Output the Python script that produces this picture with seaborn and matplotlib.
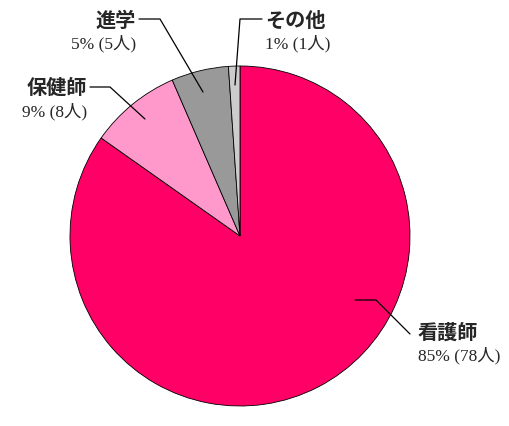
import matplotlib
matplotlib.use("Agg")
import matplotlib.pyplot as plt
import seaborn as sns

sns.set_style("white")
plt.rcParams['font.family'] = ['Liberation Serif', 'Noto Sans CJK JP']

# Data (clockwise from 12 o'clock)
categories = ['看護師', '保健師', '進学', 'その他']
counts = [78, 8, 5, 1]
percents = [85, 9, 5, 1]
colors = ['#FF0066', '#FF99CC', '#999999', '#CCCCCC']

# pixel geometry of the reference
W, H = 509, 427
CX, CY, R = 240, 237, 170


def px(x, y):
    # pixel position -> data coordinates (radius 1 = R px)
    return (x - CX) / R, (CY - y) / R


# leader lines: [inner point, elbow, outer point], text anchor, alignment
leaders = {
    '看護師': ([(355, 301), (376, 301), (410, 335)], (418, 332), 'left'),
    '保健師': ([(145, 120), (110, 88), (90, 88)], (87, 88), 'right'),
    '進学': ([(203, 93), (160, 20), (139, 20)], (136, 20), 'right'),
    'その他': ([(235, 86), (240, 20), (262, 20)], (265, 20), 'left'),
}

fig = plt.figure(figsize=(W / 100, H / 100), dpi=100)
ax = fig.add_axes([0, 0, 1, 1])
ax.pie(counts, colors=colors, startangle=90, counterclock=False, radius=1,
       wedgeprops=dict(edgecolor='black', linewidth=0.6))
ax.set_xlim(-CX / R, (W - CX) / R)
ax.set_ylim(-(H - CY) / R, CY / R)
ax.set_aspect('equal')
ax.axis('off')

for cat, n, p in zip(categories, counts, percents):
    pts, (tx, ty), ha = leaders[cat]
    xs, ys = zip(*[px(*q) for q in pts])
    ax.plot(xs, ys, color='black', linewidth=0.9)
    x0, y0 = px(tx, ty)
    ax.text(x0, y0, cat, ha=ha, va='center', fontsize=14.5, fontweight='bold',
            family=['Noto Sans CJK JP'])
    ax.text(x0, px(tx, ty + 24)[1], f'{p}% ({n}人)', ha=ha, va='center',
            fontsize=12.5)

fig.savefig('out.png', dpi=100)
